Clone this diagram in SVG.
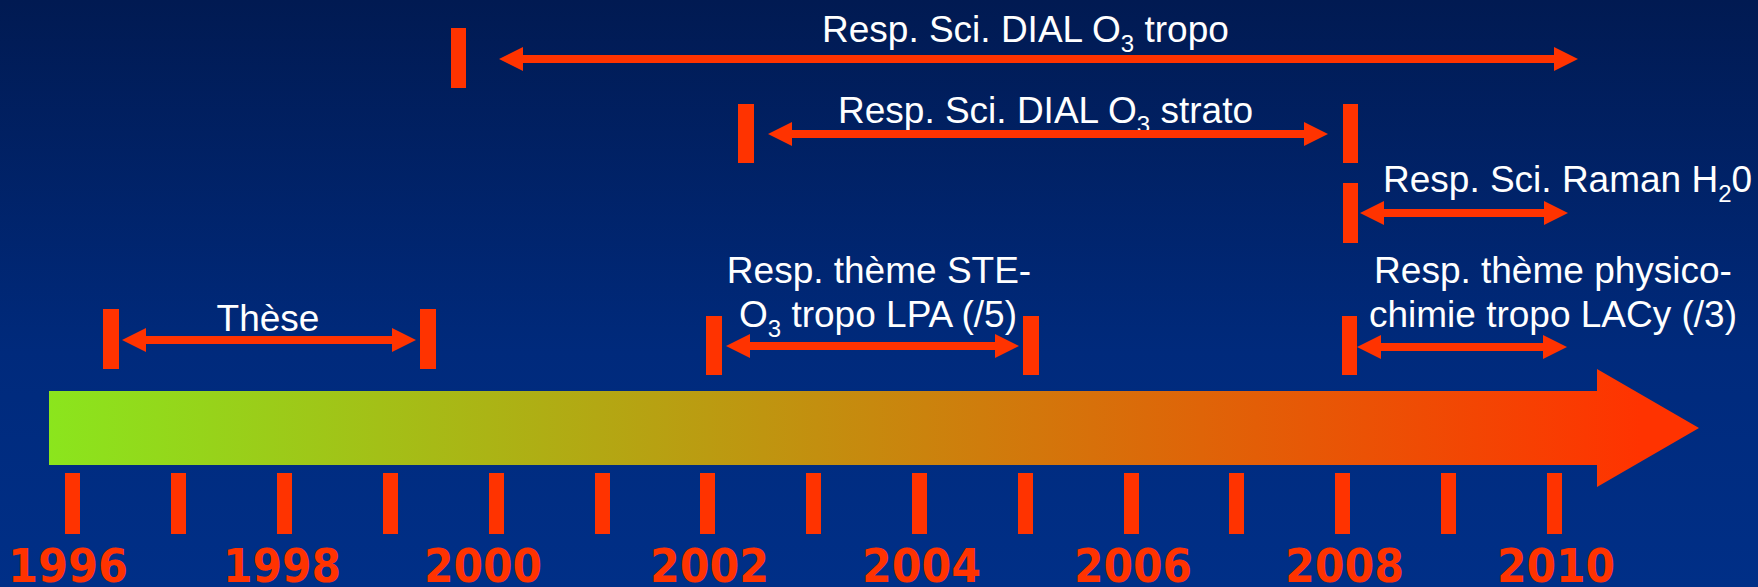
<svg xmlns="http://www.w3.org/2000/svg" width="1758" height="587" viewBox="0 0 1758 587">
  <defs>
    <linearGradient id="bg" x1="0" y1="0" x2="0" y2="1">
      <stop offset="0" stop-color="#011A52"/>
      <stop offset="0.6" stop-color="#002A7C"/>
      <stop offset="1" stop-color="#002F87"/>
    </linearGradient>
    <linearGradient id="tl" gradientUnits="userSpaceOnUse" x1="49" y1="0" x2="1640" y2="0">
      <stop offset="0" stop-color="#8BE51D"/>
      <stop offset="1" stop-color="#FF3300"/>
    </linearGradient>
    <marker id="ah" viewBox="0 0 24 24" markerWidth="24" markerHeight="24" markerUnits="userSpaceOnUse" refX="14" refY="12" orient="auto-start-reverse">
      <path d="M0,0 L24,12 L0,24 Z" fill="#FF3300"/>
    </marker>
    <style>
      .tick { fill: #FF3300; }
      .mark { fill: #FF3300; }
      .year { font-family: "DejaVu Sans Condensed", "DejaVu Sans", sans-serif; font-weight: bold; font-size: 47px; fill: #FF3300; }
      .lbl { font-family: "Liberation Sans", Arial, sans-serif; font-size: 37px; fill: #FFFFFF; }
      .sub { font-size: 24px; }
      .conn { stroke: #FF3300; stroke-width: 8; fill: none; marker-start: url(#ah); marker-end: url(#ah); }
    </style>
  </defs>

  <rect x="0" y="0" width="1758" height="587" fill="url(#bg)"/>

  <g id="timeline">
    <path d="M49,391 H1597 V369 L1699,428 L1597,487 V465 H49 Z" fill="url(#tl)"/>
  </g>

  <g id="ticks">
    <rect class="tick" x="65" y="473" width="15" height="61"/>
    <rect class="tick" x="171" y="473" width="15" height="61"/>
    <rect class="tick" x="277" y="473" width="15" height="61"/>
    <rect class="tick" x="383" y="473" width="15" height="61"/>
    <rect class="tick" x="489" y="473" width="15" height="61"/>
    <rect class="tick" x="595" y="473" width="15" height="61"/>
    <rect class="tick" x="700" y="473" width="15" height="61"/>
    <rect class="tick" x="806" y="473" width="15" height="61"/>
    <rect class="tick" x="912" y="473" width="15" height="61"/>
    <rect class="tick" x="1018" y="473" width="15" height="61"/>
    <rect class="tick" x="1124" y="473" width="15" height="61"/>
    <rect class="tick" x="1229" y="473" width="15" height="61"/>
    <rect class="tick" x="1335" y="473" width="15" height="61"/>
    <rect class="tick" x="1441" y="473" width="15" height="61"/>
    <rect class="tick" x="1547" y="473" width="15" height="61"/>
  </g>

  <g id="years">
    <text class="year" x="8" y="582" textLength="120" lengthAdjust="spacingAndGlyphs">1996</text>
    <text class="year" x="223" y="582" textLength="118" lengthAdjust="spacingAndGlyphs">1998</text>
    <text class="year" x="424" y="582" textLength="118" lengthAdjust="spacingAndGlyphs">2000</text>
    <text class="year" x="650" y="582" textLength="119" lengthAdjust="spacingAndGlyphs">2002</text>
    <text class="year" x="862" y="582" textLength="119" lengthAdjust="spacingAndGlyphs">2004</text>
    <text class="year" x="1074" y="582" textLength="118" lengthAdjust="spacingAndGlyphs">2006</text>
    <text class="year" x="1285" y="582" textLength="119" lengthAdjust="spacingAndGlyphs">2008</text>
    <text class="year" x="1497" y="582" textLength="118" lengthAdjust="spacingAndGlyphs">2010</text>
  </g>

  <g id="these">
    <rect class="mark" x="103" y="309" width="16" height="60"/>
    <rect class="mark" x="420" y="309" width="16" height="60"/>
    <text class="lbl" x="268" y="331" text-anchor="middle">Thèse</text>
  </g>

  <g id="dial-tropo">
    <rect class="mark" x="451" y="28" width="15" height="60"/>
    <text class="lbl" x="822" y="42">Resp. Sci. DIAL O<tspan class="sub" dy="10">3</tspan><tspan dy="-10"> tropo</tspan></text>
  </g>

  <g id="dial-strato">
    <rect class="mark" x="738" y="104" width="16" height="59"/>
    <rect class="mark" x="1343" y="104" width="15" height="59"/>
    <text class="lbl" x="838" y="123">Resp. Sci. DIAL O<tspan class="sub" dy="10">3</tspan><tspan dy="-10"> strato</tspan></text>
  </g>

  <g id="raman">
    <rect class="mark" x="1343" y="183" width="15" height="60"/>
    <text class="lbl" x="1383" y="192">Resp. Sci. Raman H<tspan class="sub" dy="10">2</tspan><tspan dy="-10">0</tspan></text>
  </g>

  <g id="ste">
    <rect class="mark" x="706" y="316" width="16" height="59"/>
    <rect class="mark" x="1023" y="316" width="16" height="59"/>
    <text class="lbl" x="879" y="283" text-anchor="middle">Resp. thème STE-</text>
    <text class="lbl" x="878" y="327" text-anchor="middle">O<tspan class="sub" dy="10">3</tspan><tspan dy="-10"> tropo LPA (/5)</tspan></text>
  </g>

  <g id="physico">
    <rect class="mark" x="1342" y="316" width="15" height="59"/>
    <text class="lbl" x="1553" y="283" text-anchor="middle">Resp. thème physico-</text>
    <text class="lbl" x="1553" y="327" text-anchor="middle">chimie tropo LACy (/3)</text>
  </g>

  <g id="connectors">
    <line class="conn" x1="132" y1="340" x2="406" y2="340"/>
    <line class="conn" x1="509" y1="59" x2="1568" y2="59"/>
    <line class="conn" x1="778" y1="134" x2="1318" y2="134"/>
    <line class="conn" x1="1370" y1="213" x2="1558" y2="213"/>
    <line class="conn" x1="736" y1="346" x2="1009" y2="346"/>
    <line class="conn" x1="1367" y1="347" x2="1557" y2="347"/>
  </g>
</svg>
